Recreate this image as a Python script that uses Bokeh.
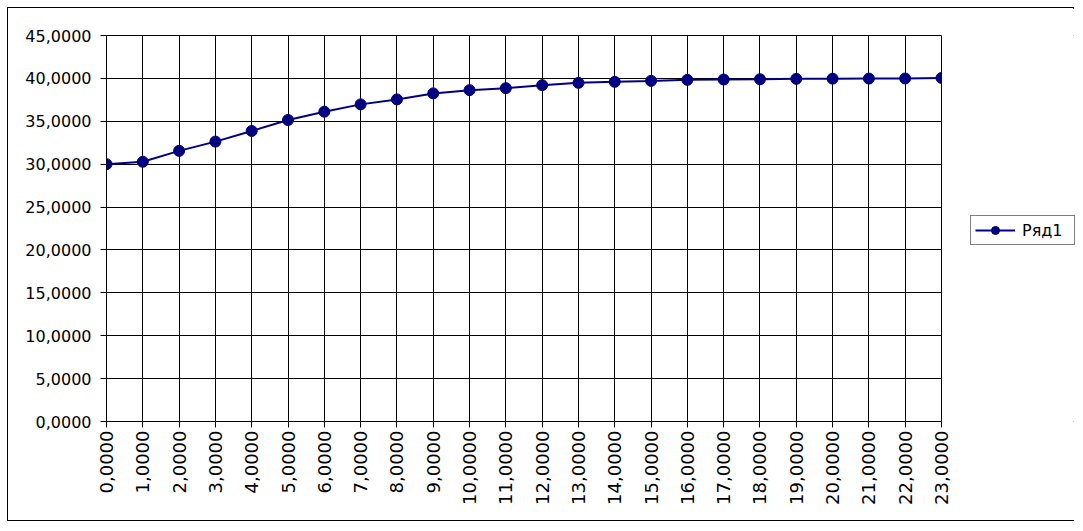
import math
from bokeh.plotting import figure
from bokeh.layouts import row
from bokeh.models import Range1d, Legend, LegendItem, FixedTicker
from bokeh.embed import file_html
from bokeh.resources import INLINE

hours = list(range(24))
values = [30.00, 30.28, 31.55, 32.63, 33.87, 35.15, 36.12, 36.97, 37.55, 38.25,
          38.63, 38.86, 39.21, 39.48, 39.60, 39.71, 39.83, 39.87, 39.90, 39.95,
          39.97, 39.98, 39.99, 40.05]
y_ticks = [0, 5, 10, 15, 20, 25, 30, 35, 40, 45]
series_name = "Ряд1"

def fmt(v):
    return f"{v:.4f}".replace(".", ",")

NAVY = "#000080"

p = figure(width=947, height=514, output_backend="svg", toolbar_location=None,
           x_range=Range1d(0, 23), y_range=Range1d(0, 45),
           min_border_left=98, min_border_right=14, min_border_top=27, min_border_bottom=99)
p.outline_line_color = "black"
p.background_fill_color = "white"
p.border_fill_color = "white"

for ax in (p.xaxis[0], p.yaxis[0]):
    ax.axis_line_color = "black"
    ax.major_tick_line_color = "black"
    ax.minor_tick_line_color = None
    ax.major_tick_in = 0
    ax.major_tick_out = 6
    ax.major_label_text_font = "DejaVu Sans"
    ax.major_label_text_color = "black"

p.yaxis.major_label_text_font_size = "16px"
p.xaxis.major_label_text_font_size = "18px"
p.yaxis.ticker = FixedTicker(ticks=y_ticks)
p.yaxis.major_label_overrides = {t: fmt(t) for t in y_ticks}
p.yaxis.major_label_standoff = 9
p.xaxis.ticker = FixedTicker(ticks=hours)
p.xaxis.major_label_overrides = {h: fmt(h) for h in hours}
p.xaxis.major_label_orientation = math.pi / 2
p.xaxis.major_label_standoff = 3

p.xgrid.ticker = FixedTicker(ticks=hours)
p.ygrid.ticker = FixedTicker(ticks=y_ticks)
for g in (p.xgrid[0], p.ygrid[0]):
    g.grid_line_color = "black"
    g.grid_line_width = 1

p.line(hours, values, line_color=NAVY, line_width=2)
p.scatter(hours, values, size=11, fill_color=NAVY, line_color=NAVY)

# legend panel: separate figure to the right of the plot area
q = figure(width=120, height=514, output_backend="svg", toolbar_location=None,
           x_range=Range1d(0, 1), y_range=Range1d(0, 1),
           min_border_left=0, min_border_right=0, min_border_top=0, min_border_bottom=0)
q.axis.visible = False
q.grid.visible = False
q.outline_line_color = None
q.background_fill_color = "white"
q.border_fill_color = "white"
# swatch renderers with no drawable points; only used for the legend glyph
nan = float("nan")
lq = q.line([nan, nan], [nan, nan], line_color=NAVY, line_width=2)
sq = q.scatter([nan], [nan], size=11, fill_color=NAVY, line_color=NAVY)
legend = Legend(items=[LegendItem(label=series_name, renderers=[lq, sq])],
                location=(15, 176), border_line_color="black", border_line_width=1,
                label_text_font="DejaVu Sans", label_text_font_size="16px",
                label_text_color="black", label_width=48,
                glyph_width=40, glyph_height=20, padding=4, margin=0, spacing=0,
                label_standoff=7, background_fill_alpha=1)
q.add_layout(legend, "center")

lay = row(p, q)
lay.styles = {"border": "1px solid black", "margin": "7px 0 0 7px", "width": "1067px", "height": "514px"}

open("out.html", "w").write(file_html(lay, INLINE))
